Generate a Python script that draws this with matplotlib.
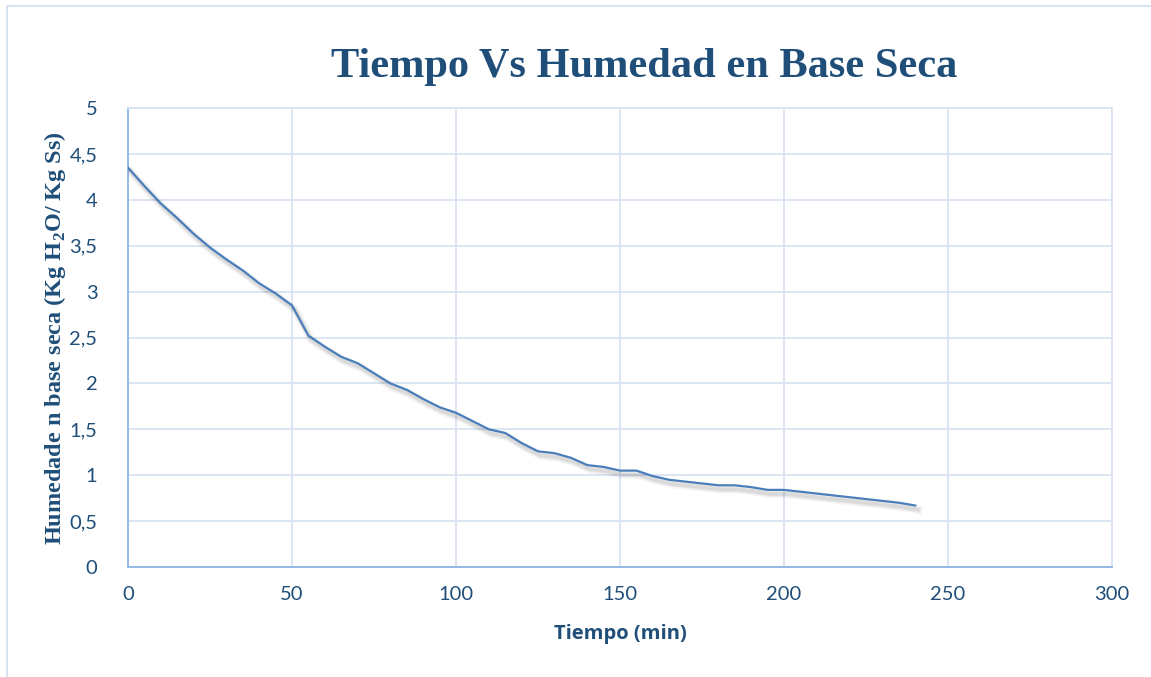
import matplotlib
matplotlib.use("Agg")
import matplotlib.pyplot as plt
import matplotlib.patheffects as pe
from matplotlib.lines import Line2D
from matplotlib.ticker import FuncFormatter

# Drying curve: time (min) vs moisture on dry basis (kg H2O / kg dry solid)
tiempo = [0, 5, 10, 15, 20, 25, 30, 35, 40, 45, 50, 55, 60, 65, 70, 75, 80, 85,
          90, 95, 100, 105, 110, 115, 120, 125, 130, 135, 140, 145, 150, 155,
          160, 165, 170, 175, 180, 185, 190, 195, 200, 205, 210, 215, 220, 225,
          230, 235, 240]
humedad = [4.35, 4.15, 3.96, 3.80, 3.63, 3.48, 3.35, 3.23, 3.09, 2.98, 2.85,
           2.52, 2.40, 2.29, 2.22, 2.11, 2.00, 1.93, 1.83, 1.74, 1.68, 1.59,
           1.50, 1.46, 1.35, 1.26, 1.24, 1.19, 1.11, 1.09, 1.05, 1.05, 0.99,
           0.95, 0.93, 0.91, 0.89, 0.89, 0.87, 0.84, 0.84, 0.82, 0.80, 0.78,
           0.76, 0.74, 0.72, 0.70, 0.67]
x_ticks = [0, 50, 100, 150, 200, 250, 300]
y_ticks = [0, 0.5, 1, 1.5, 2, 2.5, 3, 3.5, 4, 4.5, 5]

TEXT = "#1F4E79"
GRID = "#D9E4F2"
LINE = "#4A7EBB"
SPINE = "#8EB4E3"

fig = plt.figure(figsize=(11.51, 6.77), dpi=100)
ax = fig.add_axes([128 / 1151, 1 - 567 / 677, 984 / 1151, 459 / 677])

# soft drop shadow under the curve, built from a few widening faint strokes
shadow = [pe.SimpleLineShadow(offset=(2, -3), shadow_color="#000000",
                              alpha=a, linewidth=w)
          for a, w in ((0.04, 6), (0.05, 4), (0.06, 2.5))]
ax.plot(tiempo, humedad, color=LINE, lw=1.6, solid_joinstyle="round",
        path_effects=shadow + [pe.Normal()], zorder=3)

ax.set_xlim(0, 300)
ax.set_ylim(0, 5)
ax.set_xticks(x_ticks)
ax.set_yticks(y_ticks)
ax.yaxis.set_major_formatter(FuncFormatter(lambda v, p: f"{v:g}".replace(".", ",")))
ax.grid(True, color=GRID, lw=1.3, zorder=0)
ax.tick_params(length=0, labelsize=14.5, labelcolor=TEXT)
for lbl in ax.get_xticklabels() + ax.get_yticklabels():
    lbl.set_fontfamily("Lato")
ax.tick_params(axis="y", pad=22)
ax.tick_params(axis="x", pad=14)

for side in ("top", "right"):
    ax.spines[side].set_color(GRID)
    ax.spines[side].set_linewidth(1.3)
for side in ("left", "bottom"):
    ax.spines[side].set_color(SPINE)
    ax.spines[side].set_linewidth(1.3)

fig.text(644 / 1151, 1 - 67 / 677, "Tiempo Vs Humedad en Base Seca",
         family="Liberation Serif", weight="bold", fontsize=30.5, color=TEXT,
         ha="center", va="center")
fig.text(55 / 1151, 1 - 338 / 677,
         r"Humedade n base seca (Kg H$_\mathregular{2}$O/ Kg Ss)",
         family="Liberation Serif", weight="bold", fontsize=17.5, color=TEXT,
         rotation=90, ha="center", va="center")
fig.text(620 / 1151, 1 - 634 / 677, "Tiempo (min)", family="Open Sans",
         weight="bold", fontsize=14.5, color=TEXT, ha="center", va="center")

# Chart frame
fig.add_artist(Line2D([7 / 1151, 7 / 1151], [0, 1 - 6 / 677],
                      transform=fig.transFigure, color=GRID, lw=1.5))
fig.add_artist(Line2D([7 / 1151, 1], [1 - 6 / 677, 1 - 6 / 677],
                      transform=fig.transFigure, color=GRID, lw=1.5))

fig.savefig("out.png", dpi=100)
